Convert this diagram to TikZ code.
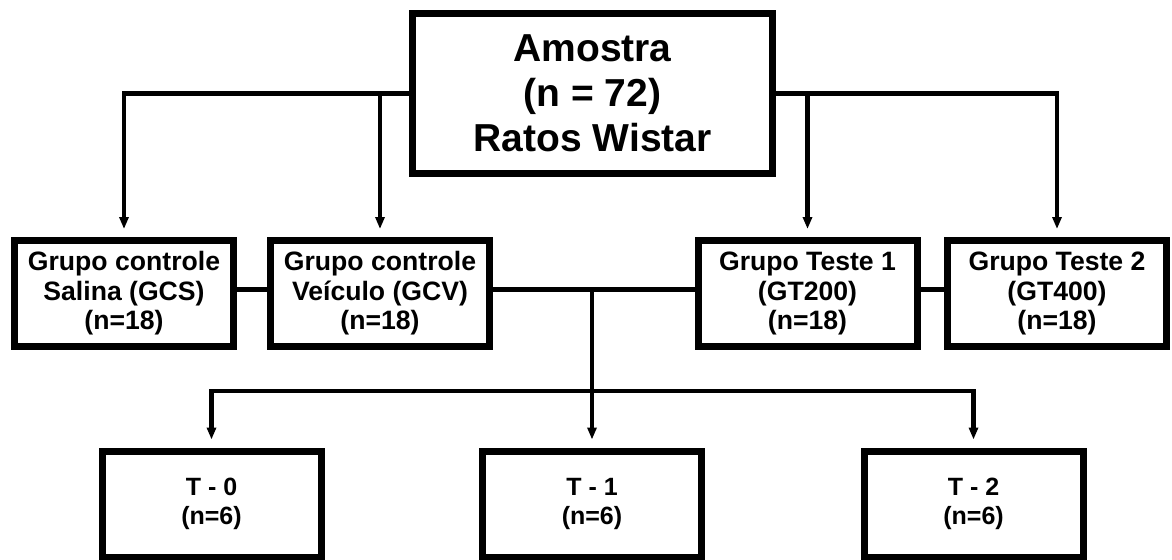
\documentclass[tikz,border=0pt]{standalone}
\usepackage{fontspec}
\setmainfont{Liberation Sans}
\usetikzlibrary{arrows.meta}

\begin{document}
\begin{tikzpicture}[x=0.5pt, y=-0.5pt,
    box/.style={draw, line width=3.5pt, minimum width=109.5pt, minimum height=53pt, inner sep=0pt, align=center, font=\bfseries\fontsize{13.3}{14.75}\selectfont},
    bigbox/.style={box, minimum width=180pt, minimum height=80pt, font=\bfseries\fontsize{19.5}{22.5}\selectfont},
    timebox/.style={box, font=\bfseries\fontsize{12.5}{14.75}\selectfont},
    link/.style={line width=2.4pt},
    arr/.style={link, -{Triangle[width=4.5pt, length=6pt]}, shorten >=4pt}]
    \useasboundingbox (0,0) rectangle (1172,559);

    % Sample
    \node[bigbox] (amostra) at (592.5,93.5) {Amostra\\(n = 72)\\Ratos Wistar};

    % Groups
    \node[box] (gcs) at (124,293.5) {Grupo controle\\Salina (GCS)\\(n=18)};
    \node[box] (gcv) at (380,293.5) {Grupo controle\\Veículo (GCV)\\(n=18)};
    \node[box] (gt1) at (807.5,293.5) {Grupo Teste 1\\(GT200)\\(n=18)};
    \node[box] (gt2) at (1057,293.5) {Grupo Teste 2\\(GT400)\\(n=18)};

    % Times
    \node[timebox] (t0) at (211.5,504) {T - 0\\(n=6)};
    \node[timebox] (t1) at (592,504) {T - 1\\(n=6)};
    \node[timebox] (t2) at (973.5,504) {T - 2\\(n=6)};
    \coordinate (bus) at (592,391);

    \draw[arr] (amostra.west) -| (gcs);
    \draw[arr] (amostra.west -| gcv) -- (gcv);
    \draw[arr] (amostra.east) -| (gt2);
    \draw[arr] (amostra.east -| gt1) -- (gt1);

    \draw[link] ([yshift=2pt]gcs.east) -- ([yshift=2pt]gcv.west);
    \draw[link] ([yshift=2pt]gcv.east) -- ([yshift=2pt]gt1.west);
    \draw[link] ([yshift=2pt]gt1.east) -- ([yshift=2pt]gt2.west);

    \draw[arr] ([yshift=2pt]gcv.east -| t1) -- (t1);
    \draw[arr] (bus) -| (t0);
    \draw[arr] (bus) -| (t2);
\end{tikzpicture}
\end{document}
